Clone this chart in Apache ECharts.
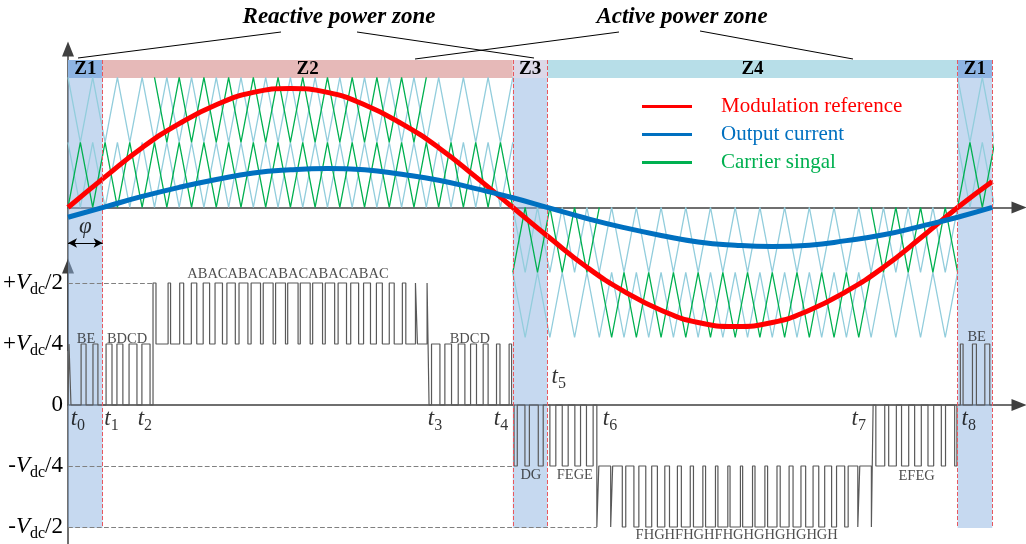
<!DOCTYPE html>
<html>
<head>
<meta charset="utf-8">
<script src="https://cdn.jsdelivr.net/npm/echarts@6/dist/echarts.min.js"></script>
<style>
  html, body { margin: 0; padding: 0; background: #fff; }
  #chart { width: 1026px; height: 544px; }
</style>
</head>
<body>
<div id="chart"></div>
<script>
// x is electrical angle in degrees: one period (0..360) plus phi (374)
const refAngle = [0, 15, 30, 45, 60, 75, 90, 105, 120, 135, 150, 165, 180, 195, 210, 225, 240, 255, 270, 285, 300, 315, 330, 345, 360, 374];
// upper plot, in carrier-band units
const modulationRef = [0, 0.47, 0.92, 1.29, 1.58, 1.77, 1.83, 1.77, 1.58, 1.29, 0.92, 0.47, 0, -0.47, -0.92, -1.29, -1.58, -1.77, -1.83, -1.77, -1.58, -1.29, -0.92, -0.47, 0, 0.4];
const outputCurrent = [-0.15, 0.01, 0.17, 0.31, 0.43, 0.53, 0.58, 0.6, 0.58, 0.51, 0.42, 0.29, 0.15, -0.01, -0.17, -0.31, -0.43, -0.53, -0.58, -0.6, -0.58, -0.51, -0.42, -0.29, -0.15, 0];

// carrier vertices (top/bottom alternate), bands and where they show
const carrierTimes = [0, 5, 10, 15, 20, 25, 30, 35, 40, 45, 50, 55, 60, 65, 70, 75, 80, 85, 90, 95, 100, 105, 110, 115, 120, 125, 130, 135, 140, 145, 150, 155, 160, 165, 170, 175, 180, 185, 190, 195, 200, 205, 210, 215, 220, 225, 230, 235, 240, 245, 250, 255, 260, 265, 270, 275, 280, 285, 290, 295, 300, 305, 310, 315, 320, 325, 330, 335, 340, 345, 350, 355, 360, 365, 370, 375];
const carrierBands = [[1, 2], [0, 1], [-1, 0], [-2, -1]];
const bandSpans = [[[0, 180], [360, 375]], [[0, 180], [360, 375]], [[180, 360]], [[180, 360]]];
const activeSpans = [[[35, 145]], [[0, 180], [360, 375]], [[180, 215], [325, 360]], [[215, 325]]];

// zones
const zoneNames = ['Z1', 'Z2', 'Z3', 'Z4', 'Z1'];
const zoneEdges = [0, 14, 180, 194, 360, 374];

// output voltage, in units of Vdc/4: [angle, level from that angle on]
const pwmZ1a = [[0, 0], [0.4, 1], [1.2, 0], [5.3, 1], [7.3, 0], [10.1, 1], [12.1, 0]];
const pwmZ2 = [
  [15.4, 1], [17.8, 0], [19.8, 1], [22.2, 0], [24.7, 1], [27.9, 0], [29.9, 1], [33.2, 0],
  [34.4, 2], [35.6, 1], [40.5, 2], [41.5, 1], [45.2, 2], [46.8, 1], [49.9, 2], [52.1, 1],
  [54.7, 2], [57.3, 1], [59.5, 2], [62.5, 1], [64.3, 2], [67.7, 1], [69.2, 2], [72.8, 1],
  [74.1, 2], [77.9, 1], [79.0, 2], [83.0, 1], [84.0, 2], [88.0, 1], [88.9, 2], [93.1, 1],
  [94.0, 2], [98.0, 1], [99.0, 2], [103.0, 1], [104.1, 2], [107.9, 1], [109.3, 2], [112.7, 1],
  [114.4, 2], [117.6, 1], [119.6, 2], [122.4, 1], [124.8, 2], [127.2, 1], [130.0, 2], [132.0, 1],
  [135.3, 2], [136.7, 1], [140.6, 2], [141.4, 1], [145.3, 2], [146.1, 0],
  [147.1, 1], [150.5, 0], [152.5, 1], [155.2, 0], [157.9, 1], [160.6, 0], [162.9, 1], [165.3, 0],
  [168.0, 1], [170.0, 0], [173.4, 1], [174.8, 0], [178.5, 1], [179.5, 0]
];
const pwmZ3 = [[180.5, -1], [181.8, 0], [184.9, -1], [186.7, 0], [190.3, -1], [192.3, 0]];
const pwmZ4 = [
  [195.0, -1], [197.4, 0], [200.0, -1], [202.4, 0], [205.1, -1], [207.4, 0], [209.8, -1], [212.5, 0],
  [214.0, -2], [214.8, -1], [219.6, -2], [220.4, -1], [224.3, -2], [225.7, -1], [229.0, -2], [231.0, -1],
  [233.8, -2], [236.2, -1], [238.5, -2], [241.5, -1], [243.4, -2], [246.6, -1], [248.2, -2], [251.8, -1],
  [253.1, -2], [256.9, -1], [258.0, -2], [262.0, -1], [263.0, -2], [267.0, -1], [267.9, -2], [272.1, -1],
  [273.0, -2], [277.0, -1], [278.0, -2], [282.0, -1], [283.1, -2], [286.9, -1], [288.2, -2], [291.8, -1],
  [293.4, -2], [296.6, -1], [298.5, -2], [301.5, -1], [303.8, -2], [306.2, -1], [309.0, -2], [311.0, -1],
  [314.3, -2], [315.7, -1], [319.6, -2], [320.4, -1], [325.1, -2], [325.8, 0],
  [326.9, -1], [330.5, 0], [332.1, -1], [335.2, 0], [337.3, -1], [340.2, 0], [342.6, -1], [345.3, 0],
  [348.0, -1], [350.3, 0], [353.4, -1], [355.1, 0], [358.8, -1], [359.7, 0]
];
const pwmZ1b = [[361.1, 1], [362.2, 0], [366.0, 1], [367.6, 0], [371.0, 1], [373.0, 0], [374, 0]];

// switching-state sequences written over the pulses: [angle, level]
const stateNames = ['BE', 'BDCD', 'ABACABACABACABACABAC', 'BDCD', 'DG', 'FEGE', 'FHGHFHGHFHGHGHGHGHGH', 'EFEG', 'BE'];
const statePos = [[7.3, 1.08], [23.9, 1.08], [89.0, 2.15], [162.6, 1.08], [187.3, -1.15], [205.1, -1.15], [270.6, -2.14], [343.4, -1.16], [367.7, 1.11]];

const levelTicks = [2, 1, 0, -1, -2];
const levelLabels = ['+Vdc/2', '+Vdc/4', '0', '-Vdc/4', '-Vdc/2'];
const instantNames = ['0', '1', '2', '3', '4', '5', '6', '7', '8'];
const instantTimes = [4.0, 17.6, 31.1, 148.5, 175.2, 198.6, 219.3, 320.0, 364.5];
// dashed guide levels in the lower plot: [level, end angle]
const guideLevels = [[2, 34.4], [-1, 180.5], [-2, 214.0]];

const serif = '"Liberation Serif", "Times New Roman", serif';
const zoneColors = { Z1: '#8EB4E3', Z2: '#E6B9B8', Z3: '#DCD8E8', Z4: '#B7DEE8' };
const lightBlue = '#92CDDC';
const green = '#00B050';

const chart = echarts.init(document.getElementById('chart'));

function carrierSeries(bandIdx, spans, phase, color, name) {
  const band = carrierBands[bandIdx];
  return spans.map(([a, b]) => ({
    type: 'line', name: name, xAxisIndex: 1, yAxisIndex: 1, z: 2,
    symbol: 'none', silent: true,
    lineStyle: { color: color, width: 1.3 }, itemStyle: { color: color },
    data: carrierTimes
      .map((t, i) => [t, (i + phase) % 2 === 0 ? band[1] : band[0]])
      .filter(p => p[0] >= a && p[0] <= b)
  }));
}

const carriers = [];
carrierBands.forEach((b, k) => {
  carriers.push(...carrierSeries(k, bandSpans[k], 0, lightBlue));
});
carrierBands.forEach((b, k) => {
  carriers.push(...carrierSeries(k, activeSpans[k], 1, green, 'Carrier singal'));
});

const pwmData = [].concat(pwmZ1a, pwmZ2, pwmZ3, pwmZ4, pwmZ1b);

const zoneBars = zoneNames.map((n, i) => [
  { name: n, xAxis: zoneEdges[i], yAxis: 60, itemStyle: { color: zoneColors[n] } },
  { xAxis: zoneEdges[i + 1], yAxis: 78 }
]);
const shaded = zoneNames.map((n, i) => (n === 'Z1' || n === 'Z3') ?
  [{ xAxis: zoneEdges[i], yAxis: 78 }, { xAxis: zoneEdges[i + 1], yAxis: 528 }] : null).filter(Boolean);
const zoneLines = zoneEdges.slice(1).map(x => [{ coord: [x, 60] }, { coord: [x, 528] }]);

const arrowAxisLine = {
  show: true, onZero: true,
  symbol: ['none', 'triangle'], symbolSize: [12, 15], symbolOffset: [0, 7],
  lineStyle: { color: '#404040', width: 1.5 }
};
const bare = { axisTick: { show: false }, axisLabel: { show: false }, splitLine: { show: false } };

const rich = {
  v: { fontFamily: serif, fontSize: 23, fontStyle: 'italic', color: '#000', verticalAlign: 'middle' },
  n: { fontFamily: serif, fontSize: 23, color: '#000', verticalAlign: 'middle' },
  s: { fontFamily: serif, fontSize: 16, color: '#000', verticalAlign: 'middle', padding: [13, 0, 0, 0] }
};
function levelText(txt) {
  return txt.split('Vdc').map(p => p ? '{n|' + p + '}' : '').join('{v|V}{s|dc}');
}

const option = {
  animation: false,
  backgroundColor: '#fff',
  grid: [
    { left: 68, top: 56, width: 944, height: 294.5 },
    { left: 68, top: 56, width: 924.2, height: 294.5 },
    { left: 68, top: 273, width: 944, height: 271 },
    { left: 68, top: 0, width: 944, height: 544 }
  ],
  xAxis: [
    Object.assign({ type: 'value', gridIndex: 0, min: 0, max: 382, axisLine: arrowAxisLine }, bare),
    { type: 'value', gridIndex: 1, min: 0, max: 374, show: false },
    Object.assign({ type: 'value', gridIndex: 2, min: 0, max: 382, axisLine: arrowAxisLine }, bare),
    { type: 'value', gridIndex: 3, min: 0, max: 382, show: false }
  ],
  yAxis: [
    Object.assign({ type: 'value', gridIndex: 0, min: -2.2, max: 2.33,
      axisLine: Object.assign({}, arrowAxisLine, { onZero: false }) }, bare),
    { type: 'value', gridIndex: 1, min: -2.2, max: 2.33, show: false },
    {
      type: 'value', gridIndex: 2, min: -2.279, max: 2.164,
      axisLine: Object.assign({}, arrowAxisLine, { onZero: false }),
      axisTick: { show: false }, splitLine: { show: false },
      axisLabel: {
        customValues: levelTicks, margin: 5, rich: rich,
        formatter: v => levelText(levelLabels[levelTicks.indexOf(v)] || '')
      }
    },
    { type: 'value', gridIndex: 3, min: 0, max: 544, inverse: true, show: false }
  ],
  legend: {
    orient: 'vertical', left: 637, top: 91, itemWidth: 50, itemHeight: 3, itemGap: 7,
    icon: 'rect', selectedMode: false,
    textStyle: { fontFamily: serif, fontSize: 21, padding: [0, 0, 0, 24] },
    data: [
      { name: 'Modulation reference', textStyle: { color: '#FF0000' } },
      { name: 'Output current', textStyle: { color: '#0070C0' } },
      { name: 'Carrier singal', textStyle: { color: green } }
    ]
  },
  graphic: [
    { type: 'text', x: 339, y: 17, style: { text: 'Reactive power zone', font: 'italic bold 23px ' + serif, fill: '#000', align: 'center', verticalAlign: 'middle' } },
    { type: 'text', x: 682, y: 17, style: { text: 'Active power zone', font: 'italic bold 23px ' + serif, fill: '#000', align: 'center', verticalAlign: 'middle' } },
    { type: 'line', shape: { x1: 281, y1: 32, x2: 78, y2: 58 }, style: { stroke: '#000', lineWidth: 1 } },
    { type: 'line', shape: { x1: 357, y1: 32, x2: 534, y2: 58 }, style: { stroke: '#000', lineWidth: 1 } },
    { type: 'line', shape: { x1: 619, y1: 32, x2: 415, y2: 59 }, style: { stroke: '#000', lineWidth: 1 } },
    { type: 'line', shape: { x1: 700, y1: 31, x2: 853, y2: 59 }, style: { stroke: '#000', lineWidth: 1 } }
  ],
  series: [
    {
      type: 'line', xAxisIndex: 3, yAxisIndex: 3, data: [], z: 1, silent: true,
      markArea: { silent: true, itemStyle: { color: 'rgba(141,180,226,0.5)' }, data: shaded }
    },
    ...carriers,
    {
      name: 'Modulation reference', type: 'line', xAxisIndex: 0, yAxisIndex: 0, z: 4,
      smooth: true, symbol: 'none', silent: true,
      lineStyle: { color: '#FF0000', width: 5 }, itemStyle: { color: '#FF0000' },
      data: refAngle.map((a, i) => [a, modulationRef[i]])
    },
    {
      name: 'Output current', type: 'line', xAxisIndex: 0, yAxisIndex: 0, z: 5,
      smooth: true, symbol: 'none', silent: true,
      lineStyle: { color: '#0070C0', width: 5 }, itemStyle: { color: '#0070C0' },
      data: refAngle.map((a, i) => [a, outputCurrent[i]])
    },
    {
      type: 'line', xAxisIndex: 2, yAxisIndex: 2, z: 3, step: 'end', symbol: 'none', silent: true,
      lineStyle: { color: '#595959', width: 1.2 },
      data: pwmData,
      markLine: {
        silent: true, symbol: 'none', label: { show: false },
        lineStyle: { color: '#808080', type: 'dashed', width: 1.2 },
        data: guideLevels.map(([lv, end]) => [{ coord: [0, lv] }, { coord: [end, lv] }])
      }
    },
    {
      type: 'scatter', xAxisIndex: 2, yAxisIndex: 2, z: 6, symbolSize: 0, silent: true,
      data: stateNames.map((n, i) => ({ value: statePos[i], name: n })),
      label: { show: true, position: 'inside', formatter: '{b}', fontFamily: serif, fontSize: 14.5, color: '#222' }
    },
    {
      type: 'scatter', xAxisIndex: 2, yAxisIndex: 2, z: 6, symbolSize: 0, silent: true,
      data: instantTimes.map((t, i) => ({ value: [t, i === 5 ? 0.46 : -0.23], name: instantNames[i] })),
      label: {
        show: true, position: 'inside',
        formatter: p => '{v|t}{s|' + p.name + '}', rich: rich
      }
    },
    {
      type: 'line', xAxisIndex: 3, yAxisIndex: 3, data: [], z: 7, silent: true,
      markArea: {
        silent: true,
        label: { show: true, position: 'inside', color: '#000', fontFamily: serif, fontSize: 19, fontWeight: 'bold' },
        data: zoneBars
      },
      markLine: {
        silent: true, symbol: 'none', label: { show: false },
        lineStyle: { color: '#E8585F', type: 'dashed', width: 1 },
        data: zoneLines
      }
    },
    {
      type: 'line', xAxisIndex: 3, yAxisIndex: 3, data: [], z: 7, silent: true,
      markLine: {
        silent: true, symbol: ['arrow', 'arrow'], symbolSize: [7, 9], label: { show: false },
        lineStyle: { color: '#000', type: 'solid', width: 1 },
        data: [[{ coord: [zoneEdges[0], 243] }, { coord: [zoneEdges[1], 243] }]]
      }
    },
    {
      type: 'scatter', xAxisIndex: 3, yAxisIndex: 3, z: 7, symbolSize: 0, silent: true,
      data: [{ value: [(zoneEdges[0] + zoneEdges[1]) / 2, 227], name: 'φ' }],
      label: { show: true, position: 'inside', formatter: '{b}', fontFamily: serif, fontStyle: 'italic', fontSize: 23, color: '#000' }
    }
  ]
};

chart.setOption(option);
window.addEventListener('resize', () => chart.resize());
</script>
</body>
</html>
